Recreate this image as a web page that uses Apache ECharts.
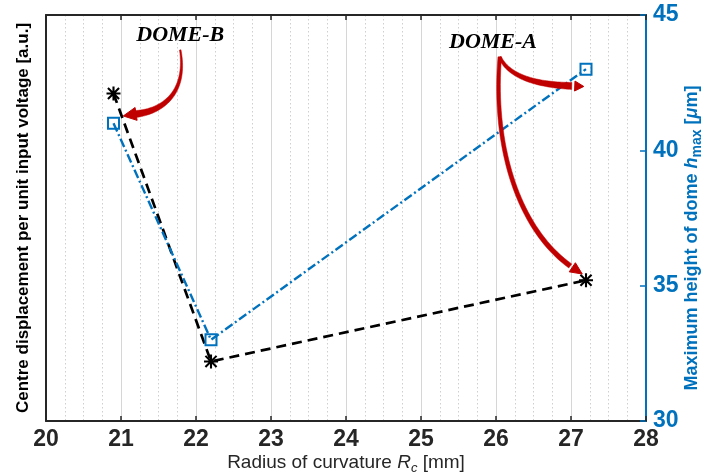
<!DOCTYPE html>
<html>
<head>
<meta charset="utf-8">
<script src="https://cdn.jsdelivr.net/npm/echarts@6/dist/echarts.min.js"></script>
<style>
html, body { margin: 0; padding: 0; background: #fff; }
#main { width: 704px; height: 474px; }
</style>
</head>
<body>
<div id="main"></div>
<script>
// radius of curvature Rc [mm]
const radius = [20.9, 22.2, 27.2];
// centre displacement per unit input voltage [a.u.], left axis (no tick labels)
const centreDisp = [1.21, 0.22, 0.52];
// maximum height of dome hmax [um], right axis
const domeHeight = [41.0, 33.0, 43.0];

// annotation arrows in (Rc, hmax) units: start, cp1, cp2, end, tip
const arrowB = [[21.79, 43.71], [21.89, 42.04], [21.52, 41.42], [21.19, 41.34], [21.03, 41.27]];
const arrowA1 = [[26.05, 43.45], [26.19, 42.60], [26.65, 42.41], [27.01, 42.38], [27.17, 42.36]];
const arrowA2 = [[26.05, 43.45], [25.95, 40.01], [26.32, 37.06], [26.99, 35.73], [27.15, 35.43]];
const domeLabels = [['DOME-B', 21.79, 44.26], ['DOME-A', 25.96, 44.0]];

const BLUE = '#0072BD';
const RED = '#C00000';
const SANS = "'Liberation Sans', Arial, sans-serif";
const ASTERISK = 'path://M8.5,0L11.5,0L11.5,20L8.5,20Z M0,8.5L20,8.5L20,11.5L0,11.5Z ' +
  'M1,3.1L3.1,1L19,16.9L16.9,19Z M16.9,1L19,3.1L3.1,19L1,16.9Z';

const chart = echarts.init(document.getElementById('main'));

chart.setOption({
  backgroundColor: '#fff',
  animation: false,
  grid: { left: 46, right: 58, top: 15, bottom: 53, outerBoundsMode: 'none', containLabel: false },
  xAxis: [{
    type: 'value', min: 20, max: 28, interval: 1,
    name: 'Radius of curvature {i|R}{s|c} [mm]',
    nameLocation: 'middle', nameGap: 30, nameMoveOverlap: false,
    nameTextStyle: {
      fontFamily: SANS, fontSize: 19, color: '#262626', lineHeight: 24,
      rich: {
        i: { fontFamily: SANS, fontSize: 19, fontStyle: 'italic', color: '#262626', lineHeight: 24 },
        s: { fontFamily: SANS, fontSize: 13, fontStyle: 'italic', color: '#262626', lineHeight: 12, verticalAlign: 'bottom' }
      }
    },
    axisLine: { lineStyle: { color: '#262626', width: 2 } },
    axisTick: { inside: true, length: 5, lineStyle: { color: '#262626', width: 1.5 } },
    axisLabel: { fontFamily: SANS, fontSize: 23, fontWeight: 'bold', color: '#262626', margin: 7 },
    splitLine: { show: true, lineStyle: { color: '#d6d6d6', width: 1 } },
    minorTick: { show: false, splitNumber: 4 },
    minorSplitLine: { show: true, lineStyle: { color: '#cfcfcf', type: [1.5, 2.5], width: 1 } }
  }, {
    type: 'value', min: 20, max: 28, interval: 1, position: 'top',
    axisLine: { lineStyle: { color: '#262626', width: 2 } },
    axisTick: { inside: true, length: 5, lineStyle: { color: '#262626', width: 1.5 } },
    axisLabel: { show: false },
    splitLine: { show: false }
  }],
  yAxis: [{
    type: 'value', min: 0, max: 1.5, position: 'left',
    name: 'Centre displacement per unit input voltage [a.u.]',
    nameLocation: 'middle', nameGap: 14, nameRotate: 90, nameMoveOverlap: false,
    nameTextStyle: { fontFamily: SANS, fontSize: 17, fontWeight: 'bold', color: '#000' },
    axisLine: { show: true, lineStyle: { color: '#262626', width: 2 } },
    axisTick: { show: false },
    axisLabel: { show: false },
    splitLine: { show: false }
  }, {
    type: 'value', min: 30, max: 45, interval: 5, position: 'right',
    name: 'Maximum height of dome {i|h}{s|max} [{i|\u03bc}m]',
    nameLocation: 'middle', nameGap: 34, nameRotate: 90, nameMoveOverlap: false,
    nameTextStyle: {
      fontFamily: SANS, fontSize: 18, fontWeight: 'bold', color: BLUE, lineHeight: 24,
      padding: [0, 40, 0, 0],
      rich: {
        i: { fontFamily: SANS, fontSize: 18, fontWeight: 'bold', fontStyle: 'italic', color: BLUE, lineHeight: 24 },
        s: { fontFamily: SANS, fontSize: 14, fontWeight: 'bold', color: BLUE, lineHeight: 12, verticalAlign: 'bottom' }
      }
    },
    axisLine: { show: true, lineStyle: { color: BLUE, width: 2 } },
    axisTick: { inside: true, length: 6, lineStyle: { color: BLUE, width: 1.5 } },
    axisLabel: { fontFamily: SANS, fontSize: 23, fontWeight: 'bold', color: BLUE, margin: 7 },
    splitLine: { show: false }
  }],
  series: [{
    name: 'Centre displacement',
    type: 'line',
    xAxisIndex: 0, yAxisIndex: 0,
    data: radius.map((r, i) => [r, centreDisp[i]]),
    symbol: ASTERISK, symbolSize: 14,
    itemStyle: { color: '#000' },
    lineStyle: { color: '#000', width: 2.7, type: [10, 6] },
    z: 3
  }, {
    name: 'Maximum height',
    type: 'line',
    xAxisIndex: 0, yAxisIndex: 1,
    data: radius.map((r, i) => [r, domeHeight[i]]),
    symbol: 'rect', symbolSize: 11,
    itemStyle: { color: 'rgba(0,0,0,0)', borderColor: BLUE, borderWidth: 2 },
    lineStyle: { color: BLUE, width: 2.4, type: [9, 3, 2, 3] },
    z: 4
  }]
});

// pixel position of a point given in (Rc, hmax) units
function px(p) {
  return [chart.convertToPixel({ xAxisIndex: 0 }, p[0]), chart.convertToPixel({ yAxisIndex: 1 }, p[1])];
}

// tapered bezier shaft plus triangular head
function arrow(def, w0, w1, headLen, headHalf) {
  const [p0, p1, p2, p3, tip] = def.map(px);
  const left = [], right = [];
  const n = 40;
  for (let i = 0; i <= n; i++) {
    const t = i / n, u = 1 - t;
    const x = u*u*u*p0[0] + 3*u*u*t*p1[0] + 3*u*t*t*p2[0] + t*t*t*p3[0];
    const y = u*u*u*p0[1] + 3*u*u*t*p1[1] + 3*u*t*t*p2[1] + t*t*t*p3[1];
    const dx = 3*u*u*(p1[0]-p0[0]) + 6*u*t*(p2[0]-p1[0]) + 3*t*t*(p3[0]-p2[0]);
    const dy = 3*u*u*(p1[1]-p0[1]) + 6*u*t*(p2[1]-p1[1]) + 3*t*t*(p3[1]-p2[1]);
    const len = Math.hypot(dx, dy) || 1;
    const nx = -dy / len, ny = dx / len;
    const w = (w0 + (w1 - w0) * t) / 2;
    left.push([x + nx * w, y + ny * w]);
    right.push([x - nx * w, y - ny * w]);
  }
  const dx = tip[0] - p3[0], dy = tip[1] - p3[1];
  const len = Math.hypot(dx, dy) || 1;
  const ux = dx / len, uy = dy / len;
  const bx = tip[0] - ux * headLen, by = tip[1] - uy * headLen;
  return [{
    type: 'polygon', z: 10, silent: true,
    shape: { points: left.concat(right.reverse()) },
    style: { fill: RED, stroke: RED, lineWidth: 0.5 }
  }, {
    type: 'polygon', z: 10, silent: true,
    shape: { points: [tip, [bx - uy * headHalf, by + ux * headHalf], [bx + uy * headHalf, by - ux * headHalf]] },
    style: { fill: RED, stroke: RED, lineWidth: 1 }
  }];
}

const graphics = []
  .concat(arrow(arrowB, 1.5, 7, 13, 6.5))
  .concat(arrow(arrowA1, 3, 7, 9, 5))
  .concat(arrow(arrowA2, 3.5, 5, 12, 5.5));

domeLabels.forEach(([txt, x, y]) => {
  const p = px([x, y]);
  graphics.push({
    type: 'text', z: 11, silent: true,
    x: p[0], y: p[1],
    style: {
      text: txt, fill: '#000', align: 'center', verticalAlign: 'middle',
      font: "italic bold 22px 'Liberation Serif', 'Times New Roman', serif"
    }
  });
});

chart.setOption({ graphic: graphics });
</script>
</body>
</html>
